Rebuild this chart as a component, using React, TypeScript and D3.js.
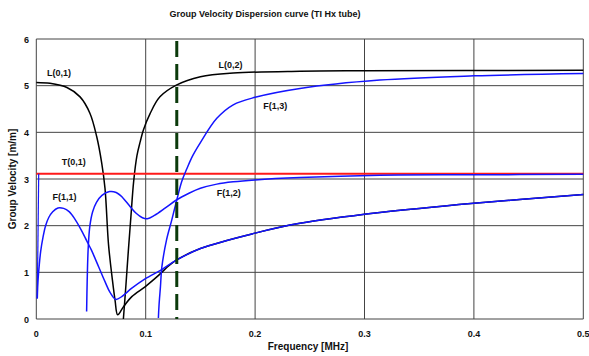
import React from "react";
import * as d3 from "d3";

const W = 589, H = 356;
const M = { left: 36.3, right: 5.7, top: 39, bottom: 37 };

const xTicks = [0, 0.1, 0.2, 0.3, 0.4, 0.5];
const xTickLabels = ["0", "0.1", "0.2", "0.3", "0.4", "0.5"];
const yTicks = [0, 1, 2, 3, 4, 5, 6];

// Frequency [MHz] / group velocity pairs
const L01_f = [0, 0.0125, 0.028, 0.04, 0.049, 0.0552, 0.0598, 0.0628, 0.066, 0.0695, 0.072, 0.0744, 0.0796, 0.0873, 0.0994, 0.1086, 0.1147, 0.12, 0.128, 0.15, 0.2, 0.241, 0.314, 0.4, 0.5];
const L01_v = [5.07, 5.05, 4.96, 4.76, 4.41, 3.91, 3.34, 2.8, 1.6, 0.85, 0.4, 0.09, 0.26, 0.48, 0.69, 0.87, 1.0, 1.12, 1.26, 1.51, 1.84, 2.05, 2.28, 2.48, 2.67];

const L02_f = [0.0796, 0.082, 0.0841, 0.0865, 0.089, 0.092, 0.095, 0.0979, 0.104, 0.113, 0.128, 0.15, 0.18, 0.241, 0.3, 0.5];
const L02_v = [0, 0.75, 1.45, 2.2, 2.95, 3.5, 3.8, 4.05, 4.4, 4.76, 5.01, 5.19, 5.27, 5.31, 5.32, 5.33];

const T01_f = [0, 0.5];
const T01_v = [3.11, 3.11];

const SPIKE_f = [0.0009, 0.0022];
const SPIKE_v = [0.44, 3.11];

const F11_f = [0.0009, 0.0015, 0.0025, 0.004, 0.0061, 0.0085, 0.0115, 0.015, 0.0198, 0.025, 0.03, 0.035, 0.041, 0.046, 0.0503, 0.0537, 0.0628, 0.0674, 0.0726, 0.0781, 0.0873, 0.0994, 0.1147, 0.128, 0.15, 0.2, 0.241, 0.314, 0.4, 0.5];
const F11_v = [0.44, 0.8, 1.1, 1.45, 1.75, 2.0, 2.18, 2.3, 2.38, 2.37, 2.3, 2.15, 1.91, 1.68, 1.48, 1.3, 0.8, 0.57, 0.42, 0.48, 0.66, 0.86, 1.06, 1.26, 1.51, 1.84, 2.05, 2.28, 2.48, 2.67];

const F12_f = [0.046, 0.0465, 0.0475, 0.049, 0.0515, 0.055, 0.06, 0.067, 0.073, 0.079, 0.085, 0.091, 0.097, 0.1015, 0.108, 0.118, 0.128, 0.14, 0.15, 0.165, 0.18, 0.2, 0.241, 0.314, 0.4, 0.5];
const F12_v = [0.16, 0.8, 1.55, 2.0, 2.3, 2.5, 2.65, 2.73, 2.71, 2.6, 2.43, 2.27, 2.17, 2.15, 2.22, 2.38, 2.55, 2.7, 2.8, 2.89, 2.94, 2.98, 3.03, 3.08, 3.09, 3.1];

const F13_f = [0.1116, 0.1122, 0.1135, 0.1147, 0.119, 0.1238, 0.1284, 0.133, 0.1376, 0.143, 0.15, 0.165, 0.18, 0.2, 0.241, 0.314, 0.4, 0.5];
const F13_v = [0.02, 0.3, 0.7, 1.1, 1.69, 2.12, 2.55, 2.95, 3.22, 3.5, 3.78, 4.3, 4.59, 4.75, 4.94, 5.12, 5.21, 5.26];

const MARKER_F = 0.1284;

const labels = [
  { text: "L(0,1)", f: 0.0098, v: 5.2 },
  { text: "L(0,2)", f: 0.1665, v: 5.37 },
  { text: "F(1,3)", f: 0.2075, v: 4.5 },
  { text: "T(0,1)", f: 0.0232, v: 3.3 },
  { text: "F(1,1)", f: 0.0149, v: 2.54 },
  { text: "F(1,2)", f: 0.165, v: 2.64 },
];

const FONT = "'Liberation Sans', Arial, sans-serif";

export default function App() {
  const x = d3.scaleLinear().domain([0, 0.5]).range([M.left, W - M.right]);
  const y = d3.scaleLinear().domain([0, 6]).range([H - M.bottom, M.top]);
  const line = (fs: number[], vs: number[], curve: d3.CurveFactory) =>
    d3
      .line<number>()
      .x((_, i) => x(fs[i]))
      .y((_, i) => y(vs[i]))
      .curve(curve)(fs) as string;

  const smooth = d3.curveCatmullRom.alpha(0.5);
  const series = [
    { f: L01_f, v: L01_v, c: "#000", w: 1.5 },
    { f: L02_f, v: L02_v, c: "#000", w: 1.5 },
    { f: T01_f, v: T01_v, c: "#ff1a1a", w: 2 },
    { f: F12_f, v: F12_v, c: "#1414ff", w: 1.5 },
    { f: F13_f, v: F13_v, c: "#1414ff", w: 1.5 },
    { f: F11_f, v: F11_v, c: "#1414ff", w: 1.5 },
    { f: SPIKE_f, v: SPIKE_v, c: "#1414ff", w: 1.2 },
  ];

  return (
    <svg width={W} height={H} style={{ position: "absolute", left: 0, top: 0, background: "#fff" }}>
      <text x={265} y={17} textAnchor="middle" fontFamily={FONT} fontSize={9} fontWeight="bold" fill="#111">
        Group Velocity Dispersion curve (TI Hx tube)
      </text>
      {yTicks.map((t) => (
        <line key={"gy" + t} x1={x(0)} x2={x(0.5)} y1={y(t)} y2={y(t)} stroke="#444" strokeWidth={1} />
      ))}
      {xTicks.map((t) => (
        <line key={"gx" + t} x1={x(t)} x2={x(t)} y1={y(0)} y2={y(6)} stroke="#444" strokeWidth={1} />
      ))}
      {yTicks.map((t) => (
        <text key={"ty" + t} x={29} y={y(t) + 3.5} textAnchor="end" fontFamily={FONT} fontSize={9} fontWeight="bold" fill="#111">
          {t}
        </text>
      ))}
      {xTicks.map((t, i) => (
        <text key={"tx" + t} x={x(t)} y={y(0) + 18} textAnchor="middle" fontFamily={FONT} fontSize={9} fontWeight="bold" fill="#111">
          {xTickLabels[i]}
        </text>
      ))}
      <text x={308} y={350} textAnchor="middle" fontFamily={FONT} fontSize={10} fontWeight="bold" fill="#111">
        Frequency [MHz]
      </text>
      <text
        transform={`translate(16,${y(3)}) rotate(-90)`}
        textAnchor="middle"
        fontFamily={FONT}
        fontSize={10}
        fontWeight="bold"
        fill="#111"
      >
        Group Velocity [m/m]
      </text>
      {series.map((s, i) => (
        <path key={i} d={line(s.f, s.v, s.f.length > 2 ? smooth : d3.curveLinear)} fill="none" stroke={s.c} strokeWidth={s.w} />
      ))}
      <line
        x1={x(MARKER_F)}
        x2={x(MARKER_F)}
        y1={y(6) + 2}
        y2={y(0)}
        stroke="#0b3a0b"
        strokeWidth={3}
        strokeDasharray="16 7"
      />
      {labels.map((l) => (
        <text key={l.text} x={x(l.f)} y={y(l.v)} fontFamily={FONT} fontSize={9} fontWeight="bold" fill="#111">
          {l.text}
        </text>
      ))}
    </svg>
  );
}
